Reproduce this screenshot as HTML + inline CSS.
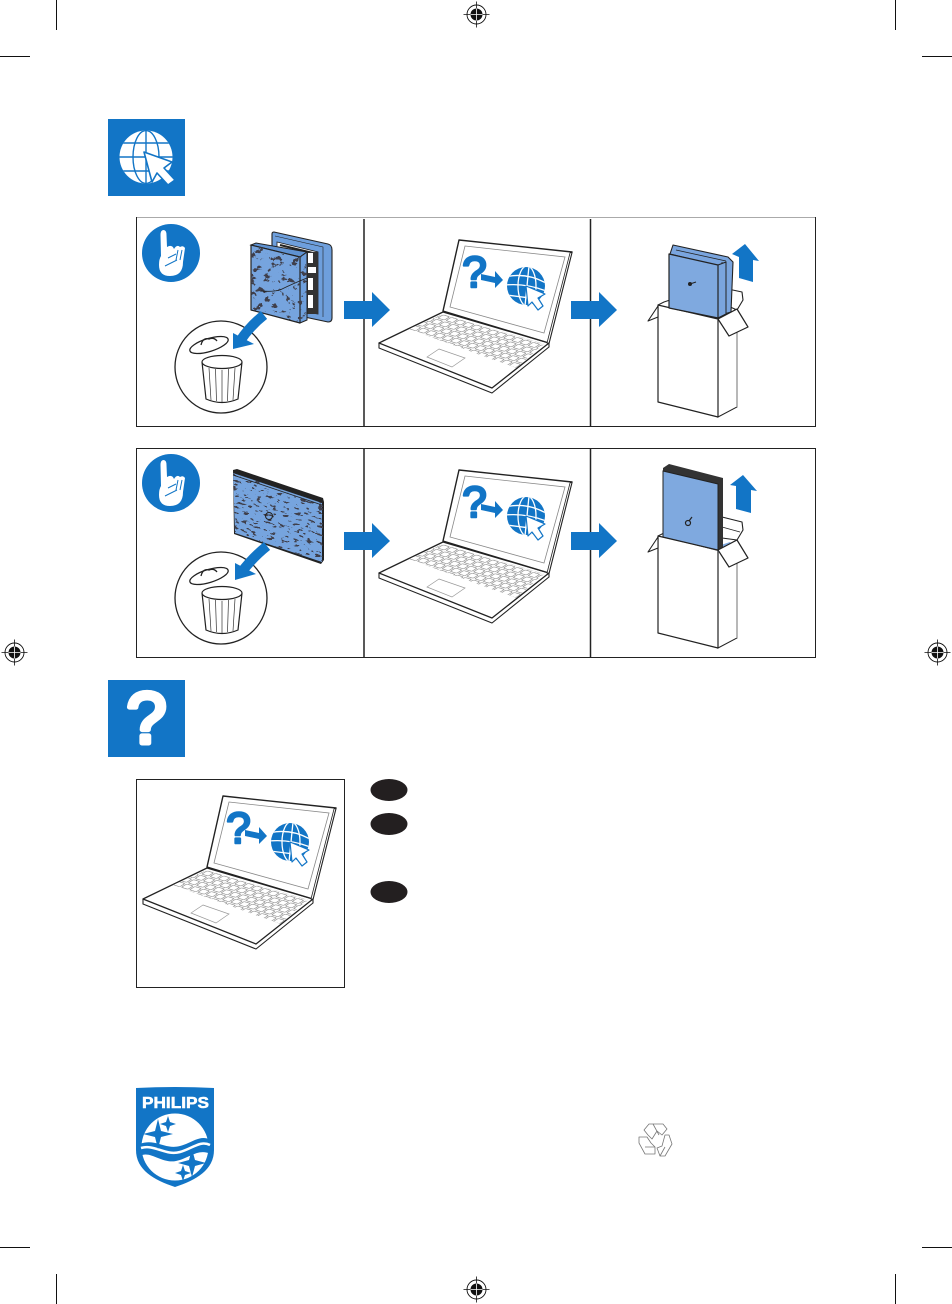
<!DOCTYPE html>
<html><head><meta charset="utf-8"><style>
html,body{margin:0;padding:0;background:#fff}
svg{display:block}
text{font-family:"Liberation Sans",sans-serif}
</style></head><body>
<svg xmlns="http://www.w3.org/2000/svg" width="952" height="1304" viewBox="0 0 952 1304">
<defs>
<filter id="spk" x="0" y="0" width="100%" height="100%">
<feTurbulence type="fractalNoise" baseFrequency="0.14 0.18" numOctaves="4" seed="7"/>
<feColorMatrix type="matrix" values="0 0 0 0 0.05  0 0 0 0 0.05  0 0 0 0 0.07  30 0 0 0 -18.4"/>
</filter>
<filter id="spk2" x="0" y="0" width="100%" height="100%">
<feTurbulence type="fractalNoise" baseFrequency="0.16 0.4" numOctaves="4" seed="11"/>
<feColorMatrix type="matrix" values="0 0 0 0 0.05  0 0 0 0 0.05  0 0 0 0 0.07  30 0 0 0 -18.4"/>
</filter>
<clipPath id="c1"><polygon points="251,245 300,257 300,323 251,310"/></clipPath>
<clipPath id="c1b"><polygon points="300,257 307,252 307,320 300,323"/></clipPath>
<clipPath id="c2"><polygon points="233,473 323,503 323,562 235,533"/></clipPath>
<clipPath id="gl"><circle cx="526" cy="286" r="19"/></clipPath>
<clipPath id="gh"><circle cx="146" cy="157" r="26.5"/></clipPath>
<pattern id="keys" width="1" height="1" patternUnits="userSpaceOnUse" patternTransform="matrix(8.2 2.5 -6.8 4.4 443 314)">
<rect x=".1" y=".12" width=".8" height=".76" rx=".16" fill="#fff" stroke="#8c8c8c" stroke-width=".1"/>
</pattern>
<g id="laptop">
<polygon points="379,343 379,348 492,393 549,347 549,343" fill="#fff" stroke="#222" stroke-width="1.100" stroke-linejoin="round"/>
<polygon points="443,312 549,343 492,388 379,343" fill="#fff" stroke="#222" stroke-width="1.300" stroke-linejoin="round"/>
<polygon points="443,314 544,344 532,354 517,368 494,360 409,329" fill="url(#keys)"/>
<polygon points="439,349 465,358 452,367 427,357" fill="#fff" stroke="#999" stroke-width=".7"/>
<polygon points="459,240 572,252 549,343 443,311" fill="#fff" stroke="#222" stroke-width="1.400" stroke-linejoin="round"/>
<polygon points="572,252 570,253 547,343 549,343" fill="#fff" stroke="#222" stroke-width=".8"/>
<polygon points="465,246 565,257 544,333 450,307" fill="#fff" stroke="#888" stroke-width=".8"/>
<text x="474.500" y="287" font-size="44" fill="#1275c6" stroke="#1275c6" stroke-width="2.600" stroke-linejoin="round" text-anchor="middle">?</text>
<polygon points="481,274 495,277 495,271 503,280 495,288 495,283 481,280" fill="#1275c6"/>
<circle cx="526" cy="286" r="19" fill="#1275c6"/>
<g clip-path="url(#gl)" fill="none" stroke="#fff" stroke-width="1.300">
<ellipse cx="527" cy="286" rx="9" ry="20"/>
<path d="M529 266 L525 306 M505 277 Q526 272 546 283 M506 295 Q526 297 546 301 M505 285 Q526 283 546 291"/>
</g>
<polygon points="526,286 545,294 538,298 543,306 538,310 532,302 528,306" fill="#fff" stroke="#1275c6" stroke-width="1.200" stroke-linejoin="round"/>
</g>
<g id="bin">
<circle cx="221" cy="367" r="46" fill="#fff" stroke="#222" stroke-width="1.300"/>
<ellipse cx="209" cy="345" rx="20" ry="6.500" transform="rotate(-17 209 345)" fill="#fff" stroke="#222" stroke-width="1.300"/>
<path d="M201 345 Q203 337 209 339 Q214 337 217 341" fill="none" stroke="#222" stroke-width="1.300"/>
<path d="M202 362 L206 399 Q222 406 238 399 L242 362" fill="#fff" stroke="#222" stroke-width="1.200"/>
<ellipse cx="222" cy="362" rx="20" ry="6.500" fill="#fff" stroke="#222" stroke-width="1.200"/>
<path d="M209 368 L211 400 M215.500 369 L216.500 401 M222 370 V402 M228.500 369 L227.500 401 M235 368 L233 400" stroke="#333" stroke-width=".7" fill="none"/>
</g>
<g id="hand">
<circle cx="171" cy="253" r="29" fill="#1275c6"/>
<path d="M160.500 235 Q160.500 230 163.500 230 Q166.500 230 166.500 235 L167 247 Q172 244 174 249 Q177 244 180 247 Q183 245 185 248 L183 262 Q183 276 170 276 Q159 276 159 265 Q159 259 161 256 Z" fill="#fff"/>
<path d="M165 266 L177 260 M178 250 L176 260 M182 250 L180 260 M168 258 L176 254" stroke="#1275c6" stroke-width="1" fill="none"/>
</g>
<g id="box">
<polygon points="718,319 737,309 737,407 718,417" fill="#fff" stroke="#222" stroke-width="1"/>
<path d="M737 316 V407" fill="none" stroke="#888" stroke-width="1.200"/>
<polygon points="658,305 718,319 718,417 658,402" fill="#fff" stroke="#222" stroke-width="1.200" stroke-linejoin="round"/>
<polygon points="658,306 648,321 658,317" fill="#fff" stroke="#222" stroke-width="1.100" stroke-linejoin="round"/>
<polyline points="658,305 664,302 670,300" fill="none" stroke="#222" stroke-width="1"/>
</g>
<polygon id="flapfront" points="718,319 737,309 748,327 729,336" fill="#fff" stroke="#222" stroke-width="1.200" stroke-linejoin="round"/>
<g id="reg">
<circle r="9.500" fill="#fff" stroke="#111" stroke-width=".9"/>
<circle r="6" fill="#111"/>
<path d="M-13 0H13M0-13V13" stroke="#111" stroke-width=".8"/>
<path d="M-6 0H6M0-6V6" stroke="#fff" stroke-width=".8"/>
</g>
<polygon id="bigarrow" points="344,301 372,301 372,292 390,310 372,327 372,319 344,319" fill="#1275c6"/>
</defs>

<rect width="952" height="1304" fill="#fff"/>

<!-- crop marks -->
<g stroke="#111" stroke-width="1">
<path d="M56.500 0V30M0 56.500H30M895.500 0V30M922 56.500H952M0 1247.500H30M56.500 1274V1304M922 1247.500H952M895.500 1274V1304"/>
</g>
<use href="#reg" transform="translate(476.500 14.500)"/>
<use href="#reg" transform="translate(14.500 652.500)"/>
<use href="#reg" transform="translate(937.500 652.500)"/>
<use href="#reg" transform="translate(476.500 1289.500)"/>

<!-- header 1 -->
<rect x="108" y="119" width="77" height="77" fill="#1275c6"/>
<circle cx="146" cy="157" r="26.500" fill="#fff"/>
<g clip-path="url(#gh)" fill="none" stroke="#1275c6" stroke-width="1.400">
<ellipse cx="146" cy="157" rx="13" ry="26.500"/>
<path d="M146 130V184M118 157H174M122 143H170M122 171H170"/>
</g>
<polygon points="144,152 172,162 164,168 175,180 168,185 157,173 152,182" fill="#fff" stroke="#1275c6" stroke-width="1.600" stroke-linejoin="round"/>

<!-- frames row 1 -->
<path d="M136.500 217.500H815.500" stroke="#aaa" stroke-width="1"/>
<path d="M136.500 217V426.500H815.500V217" fill="none" stroke="#222" stroke-width="1"/>
<path d="M364 219V426M590.500 219V426" stroke="#222" stroke-width="1.500"/>

<!-- frames row 2 -->
<rect x="136.500" y="448.500" width="679" height="209" fill="none" stroke="#222" stroke-width="1"/>
<path d="M364 449V657M590.500 449V657" stroke="#222" stroke-width="1.500"/>

<!-- row 1 panel 1 -->
<use href="#hand"/>
<path d="M274 232 L328 244 Q332 245 332 250 V318 Q332 322 328 322 L300 316 L272 250 V234 Q272 232 274 232 Z" fill="#6e9fdc" stroke="#222" stroke-width="1.100"/>
<path d="M275 236 L323 247 V317" fill="none" stroke="#222" stroke-width=".6"/>
<polygon points="277,242 318,252 318,314 300,311 277,250" fill="#fff" stroke="#222" stroke-width=".8"/>
<path d="M280 245 L317 254" stroke="#222" stroke-width="2"/>
<rect x="307" y="252" width="11" height="62" fill="#333"/>
<g fill="#fff"><rect x="308" y="253" width="5" height="10"/><rect x="308" y="267" width="8" height="6"/><rect x="308" y="278" width="5" height="12"/><rect x="308" y="295" width="5" height="13"/></g>
<polygon points="251,245 256,243 307,252 300,257" fill="#5f92d2" stroke="#222" stroke-width="1"/>
<polygon points="300,257 307,252 307,320 300,323" fill="#6e9fdc" stroke="#222" stroke-width="1"/>
<polygon points="251,245 300,257 300,323 251,310" fill="#76a4de" stroke="#222" stroke-width="1.200" stroke-linejoin="round"/>
<g clip-path="url(#c1)"><rect x="248" y="240" width="56" height="86" filter="url(#spk)"/></g>
<g clip-path="url(#c1b)"><rect x="298" y="250" width="12" height="75" filter="url(#spk)"/></g>
<path d="M261 291 Q272 292 280 290 Q292 284 307 278" fill="none" stroke="#222" stroke-width=".9"/>
<use href="#bin"/>
<path d="M264 315 Q250 326 240 341" fill="none" stroke="#1275c6" stroke-width="10"/>
<polygon points="233,333 233,349 254,344" fill="#1275c6"/>
<use href="#bigarrow"/>

<!-- row 1 panel 2 -->
<use href="#laptop"/>
<use href="#bigarrow" transform="translate(227 0)"/>

<!-- row 1 panel 3 -->
<use href="#box"/>
<polygon points="728,289 742,292 743,300 737,310 728,306" fill="#fff" stroke="#222" stroke-width="1.100" stroke-linejoin="round"/>
<polygon points="673,245 728,257 733,262 731,312 724,314 718,266 670,254" fill="#7aa5de" stroke="#222" stroke-width="1.100" stroke-linejoin="round"/>
<path d="M676 250 L726 261 M726 262 V314 M722 262 V315" stroke="#222" stroke-width=".8" fill="none"/>
<polygon points="718,265 726,262 726,314 718,318" fill="#7aa5de" stroke="#222" stroke-width="1"/>
<polygon points="669,254 718,265 718,318 669,308" fill="#7fa9df" stroke="#222" stroke-width="1.200" stroke-linejoin="round"/>
<circle cx="690" cy="284" r="2" fill="#222"/><path d="M690 284 L696 282" stroke="#222" stroke-width="1"/>
<use href="#flapfront"/>
<polygon points="745,244 759,261 753,260 753,282 739,278 739,257 732,254" fill="#1275c6"/>

<!-- row 2 panel 1 -->
<use href="#hand" transform="translate(0 230)"/>
<polygon points="233,470 237,469 323,498 324,502 324,560 321,564 234,534" fill="#222"/>
<polygon points="233,473 322,503 322,562 235,533" fill="#76a4de"/>
<g clip-path="url(#c2)"><rect x="210" y="440" width="140" height="150" transform="rotate(18 278 518)" filter="url(#spk2)"/></g>
<path d="M233 475 L322 505" stroke="#222" stroke-width=".8"/>
<circle cx="269" cy="516" r="3.500" fill="none" stroke="#222" stroke-width="1"/>
<use href="#bin" transform="translate(0 231)"/>
<path d="M267 546 Q252 558 241 573" fill="none" stroke="#1275c6" stroke-width="10"/>
<polygon points="235,563 235,580 256,574" fill="#1275c6"/>
<use href="#bigarrow" transform="translate(0 231)"/>

<!-- row 2 panel 2 -->
<use href="#laptop" transform="translate(0 230)"/>
<use href="#bigarrow" transform="translate(227 231)"/>

<!-- row 2 panel 3 -->
<use href="#box" transform="translate(0 231)"/>
<polygon points="722,517 742,522 743,530 737,540 722,538" fill="#fff" stroke="#222" stroke-width="1.100" stroke-linejoin="round"/>
<path d="M722 527 L740 532" stroke="#222" stroke-width=".9"/>
<polygon points="718,546 730,542 733,546 718,552" fill="#7fa9df"/>
<polygon points="663,468 669,464 723,478 723,548 718,551 663,537" fill="#333"/>
<polygon points="663,471 718,484 718,550 663,537" fill="#7fa9df" stroke="#222" stroke-width="1"/>
<circle cx="688" cy="523" r="2.500" fill="none" stroke="#222" stroke-width="1.200"/><path d="M689 521 L692 517" stroke="#222" stroke-width="1.200"/>
<use href="#flapfront" transform="translate(0 231)"/>
<polygon points="743,475 757,491 751,490 751,513 736,509 736,486 730,485" fill="#1275c6"/>

<!-- header 2 -->
<rect x="108" y="680" width="77" height="77" fill="#1275c6"/>
<text x="146.500" y="743" font-size="72" fill="#fff" stroke="#fff" stroke-width="5" stroke-linejoin="round" text-anchor="middle">?</text>

<!-- bottom panel -->
<rect x="136.500" y="779.500" width="208" height="208" fill="none" stroke="#222" stroke-width="1"/>
<use href="#laptop" transform="translate(-236 556)"/>

<ellipse cx="389" cy="790" rx="18.500" ry="11" fill="#231f20"/>
<ellipse cx="389" cy="824" rx="18.500" ry="11" fill="#231f20"/>
<ellipse cx="389" cy="892" rx="18.500" ry="11" fill="#231f20"/>

<!-- Philips shield -->
<path d="M136 1088 Q175 1086 214 1088 V1150 C214 1170 196 1180 175 1187 C154 1180 136 1170 136 1150 Z" fill="#1275c6"/>
<text x="175.500" y="1108" font-size="15.500" font-weight="bold" fill="#fff" stroke="#fff" stroke-width=".5" text-anchor="middle" textLength="67" lengthAdjust="spacingAndGlyphs">PHILIPS</text>
<circle cx="175" cy="1147" r="33.500" fill="#fff"/>
<path d="M140 1144 C155 1138 165 1150 180 1146 C192 1143 200 1134 211 1140 L211 1154 C198 1148 190 1158 176 1161 C162 1164 150 1150 140 1156 Z" fill="#1275c6"/>
<path d="M141 1148 C155 1144 165 1156 180 1152 C192 1149 200 1140 210 1145" fill="none" stroke="#fff" stroke-width="2.500"/>
<g fill="#1275c6">
<path d="M158 1119 L161 1131 L173 1134 L161 1137 L158 1149 L155 1137 L143 1134 L155 1131 Z"/>
<path d="M168 1116 L170 1122 L176 1124 L170 1126 L168 1132 L166 1126 L160 1124 L166 1122 Z"/>
<path d="M192 1149 L195 1160 L206 1163 L195 1166 L192 1177 L189 1166 L178 1163 L189 1160 Z"/>
<path d="M183 1165 L185 1171 L191 1173 L185 1175 L183 1181 L181 1175 L175 1173 L181 1171 Z"/>
</g>

<!-- recycle -->
<g fill="#fff" stroke="#777" stroke-width=".8" stroke-linejoin="round">
<polygon points="644,1130 649,1124 663,1124 667,1129 662,1135 657,1131 652,1139 648,1135"/>
<polygon points="639,1137 647,1137 651,1143 655,1147 655,1154 645,1154 639,1143"/>
<polygon points="665,1135 669,1135 672,1144 665,1156 660,1156 657,1148 662,1146"/>
<path d="M653 1124 L659 1135 M645 1147 L655 1147 M665 1147 L660 1156" fill="none"/>
</g>
</svg>
</body></html>
